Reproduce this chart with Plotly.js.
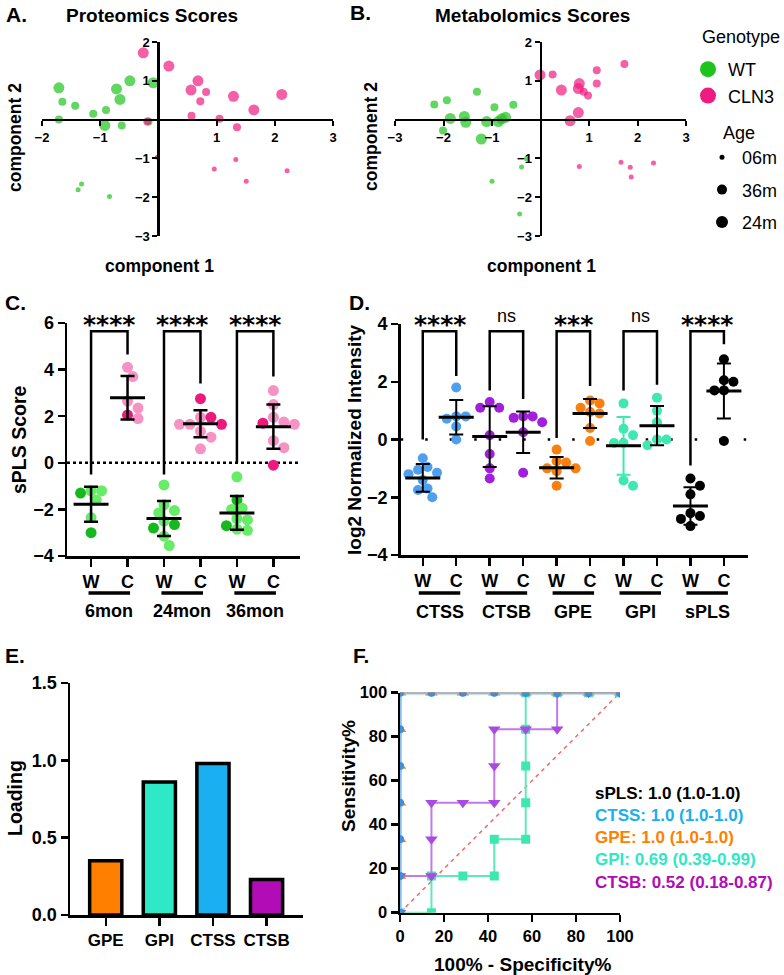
<!DOCTYPE html>
<html>
<head>
<meta charset="utf-8">
<script src="https://cdn.plot.ly/plotly-3.0.1.min.js"></script>
<style>
  html, body { margin: 0; padding: 0; background: #fff; }
  #fig { width: 784px; height: 975px; }
</style>
</head>
<body>
<div id="fig"></div>
<script>
// ---------- A: proteomics component scores ----------
const protWT_c1   = [-1.71, -1.65, -1.43, -1.71, -1.12, -0.90, -0.92, -0.72, -0.66, -0.63, -0.49, -0.09, -0.17, -1.32, -1.38, -0.84];
const protWT_c2   = [ 0.82,  0.46,  0.36,  0.00,  0.15,  0.25, -0.15,  0.79,  0.52, -0.15,  1.00,  0.95, -0.05, -1.66, -1.81, -1.98];
const protWT_age  = ['24m','36m','36m','36m','36m','36m','24m','24m','24m','36m','24m','24m','36m','06m','06m','06m'];
const protCLN_c1  = [-0.26, 0.18, -0.19, -0.02, 0.56, 0.68, 0.82, 0.72, 0.57, 1.05, 1.35, 1.29, 1.64, 2.12, 0.96, 1.33, 1.51, 2.21];
const protCLN_c2  = [ 1.72, 1.38, -0.05, -0.97, 0.76, 1.00, 0.71, 0.47, 0.10, 0.02, -0.20, 0.60, 0.25, 0.65, -1.27, -1.03, -1.59, -1.32];
const protCLN_age = ['24m','24m','36m','06m','24m','24m','36m','36m','36m','36m','36m','24m','24m','24m','06m','06m','06m','06m'];

// ---------- B: metabolomics component scores ----------
const metaWT_c1   = [-2.19, -1.93, -2.01, -1.86, -1.57, -1.54, -1.31, -1.22, -1.11, -0.95, -0.87, -0.80, -0.72, -0.56, -0.29, -0.39, -1.00, -0.43];
const metaWT_c2   = [ 0.39,  0.50, -0.28,  0.03,  0.08, -0.07,  0.72, -0.50, -0.05,  0.32, -0.05,  0.02,  0.06,  0.38, -1.01, -1.22, -1.59, -2.43];
const metaWT_age  = ['36m','36m','36m','24m','24m','24m','36m','24m','24m','36m','24m','24m','24m','36m','06m','06m','06m','06m'];
const metaCLN_c1  = [-0.01, 0.25, 0.43, 0.61, 0.78, 0.80, 0.78, 0.89, 0.98, 1.16, 1.16, 1.73, 0.80, 1.66, 1.85, 1.87, 2.33];
const metaCLN_c2  = [ 1.15, 1.16, 0.76, -0.03, 0.18, 0.93, 0.80, 0.72, 0.62, 1.27, 0.93, 1.43, -1.21, -1.10, -1.23, -1.48, -1.12];
const metaCLN_age = ['24m','36m','24m','24m','24m','24m','24m','36m','36m','36m','36m','36m','06m','06m','06m','06m','06m'];

const genotypes = ['WT', 'CLN3'];
const ages = ['06m', '36m', '24m'];

// ---------- C: sPLS score by age ----------
const cGroups   = ['6mon', '24mon', '36mon'];
const cWT       = [[-1.3, -1.2, -1.2, -1.6, -2.35, -3.0],
                   [-0.95, -1.8, -2.05, -2.15, -2.5, -2.65, -2.8, -3.15, -3.55],
                   [-0.6, -1.6, -1.95, -2.0, -2.4, -2.7, -2.85, -2.9, -2.45]];
const cWTDark   = [[1, 0, 0, 0, 0, 1], [0, 0, 0, 0, 0, 1, 1, 0, 0], [0, 1, 0, 0, 0, 1, 0, 0, 0]];
const cCLN      = [[4.1, 3.7, 2.65, 2.35, 1.9, 2.05],
                   [2.75, 1.95, 1.95, 1.65, 1.65, 1.65, 1.35, 1.1, 0.6],
                   [3.1, 2.5, 1.95, 1.75, 1.7, 1.65, 0.95, 0.65, -0.1]];
const cCLNDark  = [[0, 0, 0, 0, 0, 1], [1, 0, 1, 0, 1, 0, 0, 0, 0], [0, 0, 0, 0, 1, 0, 0, 0, 1]];
const cMeanWT   = [-1.78, -2.39, -2.15];
const cSdWT     = [0.75, 0.75, 0.72];
const cMeanCLN  = [2.79, 1.68, 1.55];
const cSdCLN    = [0.93, 0.58, 0.95];
const cSig      = ['****', '****', '****'];
const cBracketTop = 5.65;
const cBracketWT  = [-0.5, -0.5, 0.0];
const cBracketCLN = [4.65, 3.4, 3.7];

// ---------- D: log2 normalized intensity ----------
const dGenes  = ['CTSS', 'CTSB', 'GPE', 'GPI', 'sPLS'];
const dWT     = [[-0.65, -0.95, -1.05, -1.15, -1.2, -1.4, -1.7, -1.75, -2.0],
                 [1.3, 1.1, 1.1, 0.15, -0.5, -1.0, -1.35],
                 [-0.35, -0.75, -0.8, -1.0, -1.0, -1.1, -1.6],
                 [1.25, 0.37, 0.15, -0.12, -0.12, -1.42, -1.6],
                 [-1.35, -1.6, -1.9, -2.55, -2.65, -2.75, -3.0]];
const dCLN    = [[1.8, 0.8, 0.8, 0.72, 0.45, 0.0],
                 [0.8, 0.8, 0.75, 0.6, 0.25, -1.15],
                 [1.35, 1.25, 1.1, 0.95, 0.9, 0.4, -0.05],
                 [1.45, 1.0, 0.6, 0.0, 0.0, -0.2],
                 [2.78, 2.05, 2.0, 1.7, 1.7, -0.05]];
const dMeanWT  = [-1.33, 0.1, -0.98, -0.22, -2.3];
const dSdWT    = [0.48, 1.05, 0.37, 1.0, 0.65];
const dMeanCLN = [0.77, 0.25, 0.9, 0.48, 1.68];
const dSdCLN   = [0.6, 0.72, 0.5, 0.68, 0.95];
const dSig     = ['****', 'ns', '***', 'ns', '****'];
const dBracketTop = 3.75;
const dBracketWT  = [0.0, 1.7, 0.05, 1.7, -0.9];
const dBracketCLN = [2.2, 1.4, 1.85, 1.9, 3.3];

// ---------- E: loadings ----------
const eGenes   = ['GPE', 'GPI', 'CTSS', 'CTSB'];
const eLoading = [0.35, 0.86, 0.98, 0.23];

// ---------- F: ROC curves ----------
const rocNames = ['GPI', 'CTSB', 'sPLS', 'GPE', 'CTSS'];
const rocFPR = [
  [0, 14.29, 14.29, 28.57, 42.86, 42.86, 57.14, 57.14, 57.14, 57.14, 57.14, 71.43, 85.71, 100],
  [0, 0, 14.29, 14.29, 14.29, 28.57, 42.86, 42.86, 42.86, 57.14, 71.43, 71.43, 85.71, 100],
  [0, 0, 0, 0, 0, 0, 0, 14.29, 28.57, 42.86, 57.14, 71.43, 85.71, 100],
  [0, 0, 0, 0, 0, 0, 0, 14.29, 28.57, 42.86, 57.14, 71.43, 85.71, 100],
  [0, 0, 0, 0, 0, 0, 0, 14.29, 28.57, 42.86, 57.14, 71.43, 85.71, 100]];
const rocTPR = [
  [0, 0, 16.67, 16.67, 16.67, 33.33, 33.33, 50, 66.67, 83.33, 100, 100, 100, 100],
  [0, 16.67, 16.67, 33.33, 50, 50, 50, 66.67, 83.33, 83.33, 83.33, 100, 100, 100],
  [0, 16.67, 33.33, 50, 66.67, 83.33, 100, 100, 100, 100, 100, 100, 100, 100],
  [0, 16.67, 33.33, 50, 66.67, 83.33, 100, 100, 100, 100, 100, 100, 100, 100],
  [0, 16.67, 33.33, 50, 66.67, 83.33, 100, 100, 100, 100, 100, 100, 100, 100]];
const rocChance = [0, 100];
const aucLabels = ['sPLS: 1.0 (1.0-1.0)', 'CTSS: 1.0 (1.0-1.0)', 'GPE: 1.0 (1.0-1.0)',
                   'GPI: 0.69 (0.39-0.99)', 'CTSB: 0.52 (0.18-0.87)'];

// ================= drawing =================
const W = 784, H = 975;
const px = v => v / W;
const py = v => 1 - v / H;

const GREEN = '#1ec41e', PINK = '#f01b80';
const LGREEN = '#66ec66', DGREEN = '#17b81f', LPINK = '#f692c4', DPINK = '#ec1a7e';
const geneColor = { CTSS: '#4f9ff0', CTSB: '#a21fdc', GPE: '#f98010', GPI: '#3ee8b0', sPLS: '#000000' };
const barColor  = { GPE: '#ff7f00', GPI: '#2ee8c6', CTSS: '#19aff0', CTSB: '#b10cb5' };
const rocStyle = {
  GPI:  { line: '#5fe8bb', marker: '#3de8b0', symbol: 'square', size: 9 },
  CTSB: { line: '#c27ae8', marker: '#a84be0', symbol: 'triangle-down', size: 11 },
  sPLS: { line: '#000000', marker: '#000000', symbol: 'circle', size: 7 },
  GPE:  { line: '#f08020', marker: '#f08020', symbol: 'triangle-up', size: 11 },
  CTSS: { line: '#86bff0', marker: '#3f8fe0', symbol: 'circle', size: 8 }
};
const aucColors = ['#000000', '#19aff0', '#ff7f00', '#2ee8c6', '#b10cb5'];
const ageSize = { '06m': 5, '36m': 8, '24m': 11 };
const BLACK = '#000';

function ax(extra) {
  return Object.assign({
    showline: true, linewidth: 2.5, linecolor: BLACK, mirror: false,
    ticks: 'outside', ticklen: 7, tickwidth: 2.5, tickcolor: BLACK,
    showgrid: false, zeroline: false, fixedrange: true,
    tickfont: { size: 18, weight: 'bold', color: BLACK }
  }, extra);
}
const bold = (size, color = BLACK, extra = {}) => Object.assign({ size, weight: 'bold', color }, extra);

// position of the zero crossing of a range inside a domain
function zeroPos(dom, rng) {
  return dom[0] + (0 - rng[0]) / (rng[1] - rng[0]) * (dom[1] - dom[0]);
}

// simple beeswarm: horizontal offsets (data units) that keep markers apart
function swarm(vals, diam, pxPerY, pxPerX) {
  const order = vals.map((v, i) => i).sort((a, b) => vals[b] - vals[a]);
  const placed = [];
  const off = new Array(vals.length).fill(0);
  for (const i of order) {
    const y = vals[i] * pxPerY;
    let best = 0;
    for (let k = 0; k < 30; k++) {
      const cands = k === 0 ? [0] : [k * diam * 0.5, -k * diam * 0.5];
      const hit = cands.find(c => placed.every(p => Math.hypot(p.x - c, p.y - y) >= diam * 0.92));
      if (hit !== undefined) { best = hit; break; }
    }
    placed.push({ x: best, y });
    off[i] = best / pxPerX;
  }
  return off;
}

const traces = [];
const shapes = [];
const annotations = [];

function txt(x, y, text, o = {}) {
  annotations.push(Object.assign({
    xref: 'paper', yref: 'paper', x: px(x), y: py(y), text, showarrow: false,
    xanchor: 'center', yanchor: 'middle', font: bold(16)
  }, o));
}

// ----- A & B domains -----
const domYAB = [py(236), py(42)];
const rngYAB = [-3, 2];
const domXA = [px(42), px(333)], rngXA = [-2, 3];
const domXB = [px(395), px(686)], rngXB = [-3, 3];

function scoreTraces(xa, ya, c1, c2, age, color) {
  traces.push({
    type: 'scatter', mode: 'markers', xaxis: xa, yaxis: ya, x: c1, y: c2, showlegend: false,
    marker: { color, size: age.map(a => ageSize[a]), line: { width: 0 } }, hoverinfo: 'skip'
  });
}
scoreTraces('x', 'y', protWT_c1, protWT_c2, protWT_age, GREEN);
scoreTraces('x', 'y', protCLN_c1, protCLN_c2, protCLN_age, PINK);
scoreTraces('x2', 'y2', metaWT_c1, metaWT_c2, metaWT_age, GREEN);
scoreTraces('x2', 'y2', metaCLN_c1, metaCLN_c2, metaCLN_age, PINK);

// legend entries (one group per entry so the gap between rows can be set)
genotypes.forEach((g, i) => traces.push({
  type: 'scatter', mode: 'markers', x: [null], y: [null], xaxis: 'x', yaxis: 'y', name: g,
  legend: 'legend', legendgroup: 'geno' + i, marker: { color: i === 0 ? GREEN : PINK, size: 16 }
}));
ages.forEach((a, i) => traces.push({
  type: 'scatter', mode: 'markers', x: [null], y: [null], xaxis: 'x', yaxis: 'y', name: a,
  legend: 'legend2', legendgroup: 'age' + i,
  marker: { color: BLACK, size: a === '06m' ? 5 : (a === '36m' ? 10 : 12) }
}));
txt(700, 37, 'Genotype', { xanchor: 'left', font: { size: 18, weight: 'normal', color: BLACK } });
txt(721, 133, 'Age', { xanchor: 'left', font: { size: 18, weight: 'normal', color: BLACK } });

// ----- C -----
const domXC = [px(67), px(300)], rngXC = [0.34, 6.73];
const domYC = [py(556), py(323)], rngYC = [-4, 6];
const cPxY = (556 - 323) / (rngYC[1] - rngYC[0]);
const cPxX = (300 - 67) / (rngXC[1] - rngXC[0]);

cGroups.forEach((g, gi) => {
  const xw = 1 + gi * 2, xc = 2 + gi * 2;
  [[cWT[gi], cWTDark[gi], xw, LGREEN, DGREEN], [cCLN[gi], cCLNDark[gi], xc, LPINK, DPINK]].forEach(([vals, dark, x0, lc, dc]) => {
    const off = swarm(vals, 10.5, cPxY, cPxX);
    traces.push({
      type: 'scatter', mode: 'markers', xaxis: 'x3', yaxis: 'y3', showlegend: false, hoverinfo: 'skip',
      x: vals.map((v, i) => x0 + off[i]), y: vals,
      marker: { size: 11, color: dark.map(d => d ? dc : lc) }
    });
  });
  // mean ± SD
  traces.push({
    type: 'scatter', mode: 'markers', xaxis: 'x3', yaxis: 'y3', showlegend: false, hoverinfo: 'skip',
    x: [xw, xc], y: [cMeanWT[gi], cMeanCLN[gi]],
    marker: { symbol: 'line-ew', size: 25, color: BLACK, line: { width: 3, color: BLACK } },
    error_y: { type: 'data', array: [cSdWT[gi], cSdCLN[gi]], width: 7, thickness: 2.5, color: BLACK }
  });
  shapes.push({
    type: 'path', xref: 'x3', yref: 'y3', line: { width: 2.5, color: BLACK },
    path: `M ${xw},${cBracketWT[gi]} L ${xw},${cBracketTop} L ${xc},${cBracketTop} L ${xc},${cBracketCLN[gi]}`
  });
  annotations.push({
    xref: 'x3', yref: 'y3', x: (xw + xc) / 2, y: cBracketTop, yanchor: 'bottom', yshift: -10, showarrow: false,
    text: cSig[gi], font: bold(25, BLACK, { family: 'DejaVu Sans' })
  });
  shapes.push({
    type: 'line', xref: 'x3', yref: 'paper', x0: xw - 0.07, x1: xc + 0.07, y0: py(593), y1: py(593),
    line: { width: 3.5, color: BLACK }
  });
  annotations.push({
    xref: 'x3', yref: 'paper', x: (xw + xc) / 2, y: py(611), yanchor: 'middle', showarrow: false,
    text: g, font: bold(18)
  });
});
shapes.push({
  type: 'line', xref: 'x3 domain', yref: 'y3', x0: 0, x1: 1, y0: 0, y1: 0,
  line: { width: 2.5, color: BLACK, dash: 'dot' }, layer: 'below'
});

// ----- D -----
const domXD = [px(400.7), px(748)], rngXD = [0.34, 10.72];
const domYD = [py(555), py(324)], rngYD = [-4, 4];
const dPxY = (555 - 324) / (rngYD[1] - rngYD[0]);
const dPxX = (748 - 400.7) / (rngXD[1] - rngXD[0]);

shapes.push({
  type: 'line', xref: 'x4 domain', yref: 'y4', x0: 0, x1: 1, y0: 0, y1: 0,
  line: { width: 2.5, color: BLACK, dash: '2.5px,22px' }, layer: 'below'
});
dGenes.forEach((g, gi) => {
  const xw = 1 + gi * 2, xc = 2 + gi * 2;
  [[dWT[gi], xw], [dCLN[gi], xc]].forEach(([vals, x0]) => {
    const off = swarm(vals, 9.5, dPxY, dPxX);
    traces.push({
      type: 'scatter', mode: 'markers', xaxis: 'x4', yaxis: 'y4', showlegend: false, hoverinfo: 'skip',
      x: vals.map((v, i) => x0 + off[i]), y: vals,
      marker: { size: 10, color: geneColor[g] }
    });
  });
  [[xw, dMeanWT[gi], dSdWT[gi], g === 'GPI' ? geneColor.GPI : BLACK], [xc, dMeanCLN[gi], dSdCLN[gi], BLACK]].forEach(([x0, m, s, ec]) => {
    traces.push({
      type: 'scatter', mode: 'markers', xaxis: 'x4', yaxis: 'y4', showlegend: false, hoverinfo: 'skip',
      x: [x0], y: [m],
      marker: { symbol: 'line-ew', size: 25, color: BLACK, line: { width: 3, color: BLACK } },
      error_y: { type: 'data', array: [s], width: 7, thickness: 2, color: ec }
    });
  });
  shapes.push({
    type: 'path', xref: 'x4', yref: 'y4', line: { width: 2.5, color: BLACK },
    path: `M ${xw},${dBracketWT[gi]} L ${xw},${dBracketTop} L ${xc},${dBracketTop} L ${xc},${dBracketCLN[gi]}`
  });
  const isNs = dSig[gi] === 'ns';
  annotations.push({
    xref: 'x4', yref: 'y4', x: (xw + xc) / 2, y: dBracketTop, yanchor: 'bottom',
    yshift: isNs ? 3 : -10, showarrow: false, text: dSig[gi],
    font: isNs ? { size: 18, weight: 'normal', color: BLACK } : bold(25, BLACK, { family: 'DejaVu Sans' })
  });
  shapes.push({
    type: 'line', xref: 'x4', yref: 'paper', x0: xw - 0.12, x1: xc + 0.12, y0: py(593), y1: py(593),
    line: { width: 3.5, color: BLACK }
  });
  annotations.push({
    xref: 'x4', yref: 'paper', x: (xw + xc) / 2, y: py(612), yanchor: 'middle', showarrow: false,
    text: g, font: bold(18)
  });
});

// ----- E -----
traces.push({
  type: 'bar', xaxis: 'x5', yaxis: 'y5', x: eGenes, y: eLoading, width: 0.6, showlegend: false,
  hoverinfo: 'skip', marker: { color: eGenes.map(g => barColor[g]), line: { color: BLACK, width: 3.5 } }
});

// ----- F -----
traces.push({
  type: 'scatter', mode: 'lines', xaxis: 'x6', yaxis: 'y6', x: rocChance, y: rocChance,
  showlegend: false, hoverinfo: 'skip', line: { color: '#f26b6b', width: 1.5, dash: '4px,4px' }
});
rocNames.forEach((n, i) => {
  const s = rocStyle[n];
  traces.push({
    type: 'scatter', mode: 'lines+markers', xaxis: 'x6', yaxis: 'y6', x: rocFPR[i], y: rocTPR[i],
    showlegend: false, hoverinfo: 'skip', cliponaxis: true,
    line: { color: s.line, width: n === 'CTSS' ? 3.5 : 2 },
    marker: { color: s.marker, symbol: s.symbol, size: s.size }
  });
});
aucLabels.forEach((t, i) => txt(593, 793 + i * 22.3, t, { xanchor: 'left', font: bold(17, aucColors[i]) }));

// ----- titles, panel letters, axis titles -----
[['A.', 4, 14], ['B.', 348, 13], ['C.', 3, 302], ['D.', 347, 302], ['E.', 3, 655], ['F.', 351, 655]]
  .forEach(([t, x, y]) => txt(x, y, t, { xanchor: 'left', font: bold(21) }));

txt(152, 16, 'Proteomics Scores', { font: bold(19) });
txt(532, 16, 'Metabolomics Scores', { font: bold(19) });
txt(15, 138, 'component 2', { textangle: -90, font: bold(17.5) });
txt(159, 266, 'component 1', { font: bold(17.5) });
txt(371, 137, 'component 2', { textangle: -90, font: bold(17.5) });
txt(541, 266, 'component 1', { font: bold(17.5) });

txt(19, 440, 'sPLS Score', { textangle: -90, font: bold(19.5) });
txt(355, 440, 'log2 Normalized Intensity', { textangle: -90, font: bold(19) });
txt(15, 798, 'Loading', { textangle: -90, font: bold(19.5) });
txt(348, 776, 'Sensitivity%', { textangle: -90, font: bold(19) });
txt(523, 964, '100% - Specificity%', { font: bold(19) });

const smallTick = { ticklen: 5, tickwidth: 2, tickfont: bold(13) };
const layout = {
  width: W, height: H, margin: { l: 0, r: 0, t: 0, b: 0, autoexpand: false },
  paper_bgcolor: '#fff', plot_bgcolor: 'rgba(0,0,0,0)',
  font: { family: 'Liberation Sans, Arial, sans-serif', color: BLACK, weight: 'bold' },
  showlegend: true,
  // A
  xaxis: ax(Object.assign({ domain: domXA, range: rngXA, anchor: 'free', position: zeroPos(domYAB, rngYAB),
              tickvals: [-2, -1, 1, 2, 3] }, smallTick)),
  yaxis: ax(Object.assign({ domain: domYAB, range: rngYAB, anchor: 'free', position: zeroPos(domXA, rngXA),
              tickvals: [-3, -2, -1, 1, 2] }, smallTick)),
  // B
  xaxis2: ax(Object.assign({ domain: domXB, range: rngXB, anchor: 'free', position: zeroPos(domYAB, rngYAB),
               tickvals: [-3, -2, -1, 1, 2, 3] }, smallTick)),
  yaxis2: ax(Object.assign({ domain: domYAB, range: rngYAB, anchor: 'free', position: zeroPos(domXB, rngXB),
               tickvals: [-3, -2, -1, 1, 2] }, smallTick)),
  // C
  xaxis3: ax({ domain: domXC, range: rngXC, anchor: 'y3', tickvals: [1, 2, 3, 4, 5, 6],
               ticktext: ['W', 'C', 'W', 'C', 'W', 'C'], ticklen: 8 }),
  yaxis3: ax({ domain: domYC, range: rngYC, anchor: 'x3', tickvals: [-4, -2, 0, 2, 4, 6] }),
  // D
  xaxis4: ax({ domain: domXD, range: rngXD, anchor: 'y4', tickvals: [1, 2, 3, 4, 5, 6, 7, 8, 9, 10],
               ticktext: ['W', 'C', 'W', 'C', 'W', 'C', 'W', 'C', 'W', 'C'], ticklen: 8 }),
  yaxis4: ax({ domain: domYD, range: rngYD, anchor: 'x4', tickvals: [-4, -2, 0, 2, 4] }),
  // E
  xaxis5: ax({ domain: [px(70), px(303)], range: [-0.667, 3.68], anchor: 'y5', type: 'category', ticklen: 8,
               tickfont: bold(17) }),
  yaxis5: ax({ domain: [py(915), py(683)], range: [0, 1.5], anchor: 'x5', tickvals: [0, 0.5, 1, 1.5],
               tickformat: '.1f' }),
  // F
  xaxis6: ax({ domain: [px(400), px(620)], range: [0, 100], anchor: 'y6', tickvals: [0, 20, 40, 60, 80, 100],
               tickfont: bold(16.5) }),
  yaxis6: ax({ domain: [py(912.7), py(692.7)], range: [0, 100], anchor: 'x6', tickvals: [0, 20, 40, 60, 80, 100],
               layer: 'below traces', tickfont: bold(16.5) }),
  legend: {
    x: px(688), y: py(51), xanchor: 'left', yanchor: 'top', bgcolor: 'rgba(0,0,0,0)',
    itemsizing: 'trace', tracegroupgap: 0, font: { size: 18, weight: 'normal', color: BLACK }
  },
  legend2: {
    x: px(702), y: py(139), xanchor: 'left', yanchor: 'top', bgcolor: 'rgba(0,0,0,0)',
    itemsizing: 'trace', tracegroupgap: 6, font: { size: 18, weight: 'normal', color: BLACK }
  },
  shapes, annotations
};

Plotly.newPlot('fig', traces, layout, { staticPlot: true, displayModeBar: false });
</script>
</body>
</html>
